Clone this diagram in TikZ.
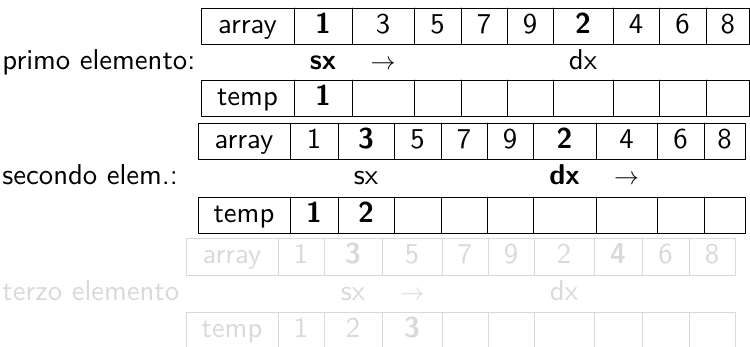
\documentclass[tikz,border=0pt]{standalone}
\usepackage{fontspec}
\setsansfont{lmsans10-regular.otf}[BoldFont=lmsans10-bold.otf]
\begin{document}
\begin{tikzpicture}[x=1pt, y=-1pt, font=\sffamily\fontsize{28.7}{34}\selectfont, line join=round, line cap=round, line width=0.9pt,
	testo/.style={anchor=base, inner sep=0pt},
	etichetta/.style={anchor=base west, inner sep=0pt},
	sbiadito/.style={black!15}]
	\useasboundingbox (0,0) rectangle (750,347);
	
	% primo elemento
	\draw (201,8) rectangle (749.5,44) (201,80) rectangle (749.5,116);
	\foreach \x in {294,352,414,461,507,553,613,659,706}
	\draw (\x,8) -- (\x,44) (\x,80) -- (\x,116);
	\foreach \x/\t [count=\i] in {247.5/array, 323/\textbf{1}, 383/3, 437.5/5, 484/7, 530/9, 583/\textbf{2}, 636/4, 682.5/6, 727.75/8}
	\node[testo] (a1-\i) at (\x,34) {\t};
	\node[etichetta] (lab1) at (2,70) {primo elemento:};
	\node[testo] (sx1) at (323,70) {\textbf{sx}};
	\node[testo] (fr1) at (383,70) {$\rightarrow$};
	\node[testo] (dx1) at (583,70) {dx};
	\node[testo] (t1-1) at (247.5,106) {temp};
	\node[testo] (t1-2) at (323,106) {\textbf{1}};
	
	% secondo elemento
	\draw (198,123) rectangle (745,159) (198,197) rectangle (745,233);
	\foreach \x in {290,338,394,441,487,533,596,657,704}
	\draw (\x,123) -- (\x,159) (\x,197) -- (\x,233);
	\foreach \x/\t [count=\i] in {244/array, 314/1, 366/\textbf{3}, 417.5/5, 464/7, 510/9, 564.5/\textbf{2}, 626.5/4, 680.5/6, 724.5/8}
	\node[testo] (a2-\i) at (\x,149) {\t};
	\node[etichetta] (lab2) at (2,185) {secondo elem.:};
	\node[testo] (sx2) at (366,185) {sx};
	\node[testo] (dx2) at (564.5,185) {\textbf{dx}};
	\node[testo] (fr2) at (626.5,185) {$\rightarrow$};
	\node[testo] (t2-1) at (244,223) {temp};
	\node[testo] (t2-2) at (314,223) {\textbf{1}};
	\node[testo] (t2-3) at (366,223) {\textbf{2}};
	
	% terzo elemento
	\begin{scope}[sbiadito]
		\draw (186,238) rectangle (735,275) (186,312) rectangle (735,348);
		\foreach \x in {278,324,382,442,488,534,594,642,689}
		\draw (\x,238) -- (\x,275) (\x,312) -- (\x,348);
		\foreach \x/\t [count=\i] in {232/array, 301/1, 353/\textbf{3}, 412/5, 465/7, 511/9, 564/2, 618/\textbf{4}, 665.5/6, 712/8}
		\node[testo] (a3-\i) at (\x,264) {\t};
		\node[etichetta] (lab3) at (2,301) {terzo elemento};
		\node[testo] (sx3) at (353,301) {sx};
		\node[testo] (fr3) at (412,301) {$\rightarrow$};
		\node[testo] (dx3) at (564,301) {dx};
		\node[testo] (t3-1) at (232,338) {temp};
		\node[testo] (t3-2) at (301,338) {1};
		\node[testo] (t3-3) at (353,338) {2};
		\node[testo] (t3-4) at (412,338) {\textbf{3}};
	\end{scope}
\end{tikzpicture}
\end{document}
